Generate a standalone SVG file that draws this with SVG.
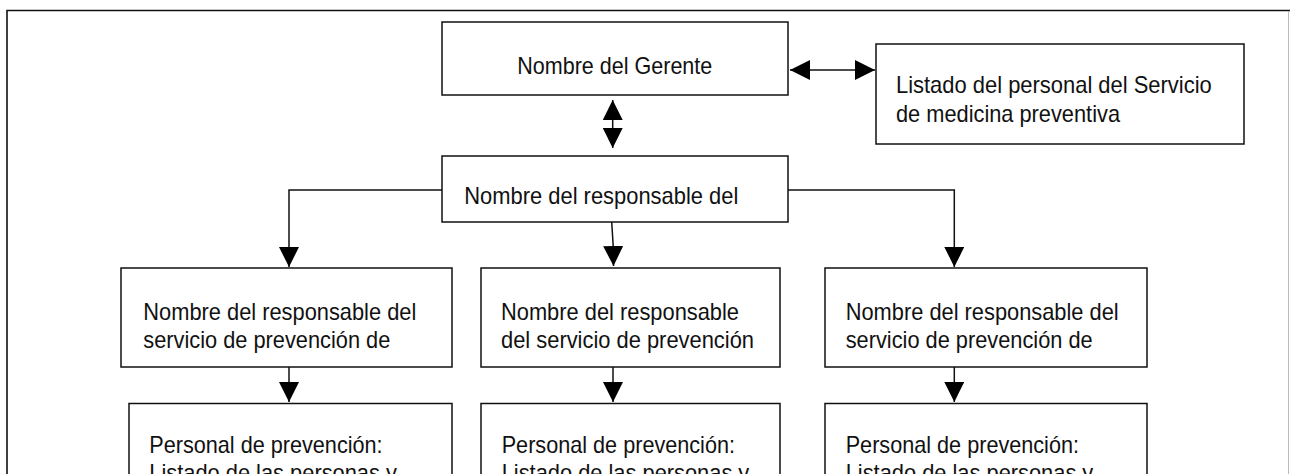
<svg xmlns="http://www.w3.org/2000/svg" width="1290" height="474" viewBox="0 0 1290 474">
<style>
.box{fill:#fff;stroke:#111;stroke-width:1.5}
.t{font-family:"Liberation Sans Narrow","Liberation Sans",Arial,sans-serif;font-size:24px;fill:#111}
.c{fill:none;stroke:#111;stroke-width:1.5}
.a{marker-end:url(#ah)}
.d{marker-start:url(#ah);marker-end:url(#ah)}
</style>
<defs>
<marker id="ah" viewBox="0 0 20 20" refX="20" refY="10" markerWidth="20" markerHeight="20" markerUnits="userSpaceOnUse" orient="auto-start-reverse">
<path d="M0,0 L20,10 L0,20 z" fill="#000"/>
</marker>
</defs>
<rect width="1290" height="474" fill="#fff"/>
<g id="frame">
<path d="M7,480 V10.5 H1290" fill="none" stroke="#111" stroke-width="1.6"/>
<line x1="1288.5" y1="11" x2="1288.5" y2="474" stroke="#bbb" stroke-width="1"/>
</g>
<g id="connectors">
<line class="c d" x1="790" y1="70" x2="875" y2="70"/>
<line class="c d" x1="612.7" y1="100" x2="612.7" y2="148"/>
<polyline class="c a" points="442,190 289,190 289,267"/>
<polyline class="c a" points="788,190 954.3,190 954.3,267"/>
<polyline class="c a" points="611.7,222 613.2,246 613.5,266"/>
<line class="c a" x1="289" y1="367" x2="289" y2="402"/>
<line class="c a" x1="613" y1="367" x2="613" y2="402"/>
<line class="c a" x1="954.3" y1="367" x2="954.3" y2="402"/>
</g>
<g id="gerente">
<rect class="box" x="442" y="22" width="346" height="73"/>
<text class="t" x="517.3" y="74" textLength="195" lengthAdjust="spacingAndGlyphs">Nombre del Gerente</text>
</g>
<g id="listado">
<rect class="box" x="876" y="44" width="368" height="100"/>
<text class="t" x="896" y="93.3" textLength="315.7" lengthAdjust="spacingAndGlyphs">Listado del personal del Servicio</text>
<text class="t" x="896" y="121.7" textLength="224" lengthAdjust="spacingAndGlyphs">de medicina preventiva</text>
</g>
<g id="responsable">
<rect class="box" x="442" y="156" width="346" height="66"/>
<text class="t" x="464.3" y="204" textLength="274" lengthAdjust="spacingAndGlyphs">Nombre del responsable del</text>
</g>
<g id="resp-left">
<rect class="box" x="121" y="268" width="331" height="99"/>
<text class="t" x="143.3" y="320" textLength="273" lengthAdjust="spacingAndGlyphs">Nombre del responsable del</text>
<text class="t" x="143.3" y="348.3" textLength="247" lengthAdjust="spacingAndGlyphs">servicio de prevención de</text>
</g>
<g id="resp-mid">
<rect class="box" x="481" y="268" width="299" height="99"/>
<text class="t" x="501" y="320" textLength="238" lengthAdjust="spacingAndGlyphs">Nombre del responsable</text>
<text class="t" x="501" y="348.3" textLength="253" lengthAdjust="spacingAndGlyphs">del servicio de prevención</text>
</g>
<g id="resp-right">
<rect class="box" x="825" y="268" width="322" height="99"/>
<text class="t" x="845.7" y="320" textLength="273" lengthAdjust="spacingAndGlyphs">Nombre del responsable del</text>
<text class="t" x="845.7" y="348.3" textLength="247" lengthAdjust="spacingAndGlyphs">servicio de prevención de</text>
</g>
<g id="personal-left">
<rect class="box" x="129" y="403.5" width="323" height="110"/>
<text class="t" x="149.3" y="453.3" textLength="233.3" lengthAdjust="spacingAndGlyphs">Personal de prevención:</text>
<text class="t" x="149.3" y="481.3" textLength="247.6" lengthAdjust="spacingAndGlyphs">Listado de las personas y</text>
</g>
<g id="personal-mid">
<rect class="box" x="481" y="403.5" width="299" height="110"/>
<text class="t" x="501.7" y="453.3" textLength="233.3" lengthAdjust="spacingAndGlyphs">Personal de prevención:</text>
<text class="t" x="501.7" y="481.3" textLength="247.6" lengthAdjust="spacingAndGlyphs">Listado de las personas y</text>
</g>
<g id="personal-right">
<rect class="box" x="825" y="403.5" width="322" height="110"/>
<text class="t" x="845.7" y="453.3" textLength="233.3" lengthAdjust="spacingAndGlyphs">Personal de prevención:</text>
<text class="t" x="845.7" y="481.3" textLength="247.6" lengthAdjust="spacingAndGlyphs">Listado de las personas y</text>
</g>
</svg>
